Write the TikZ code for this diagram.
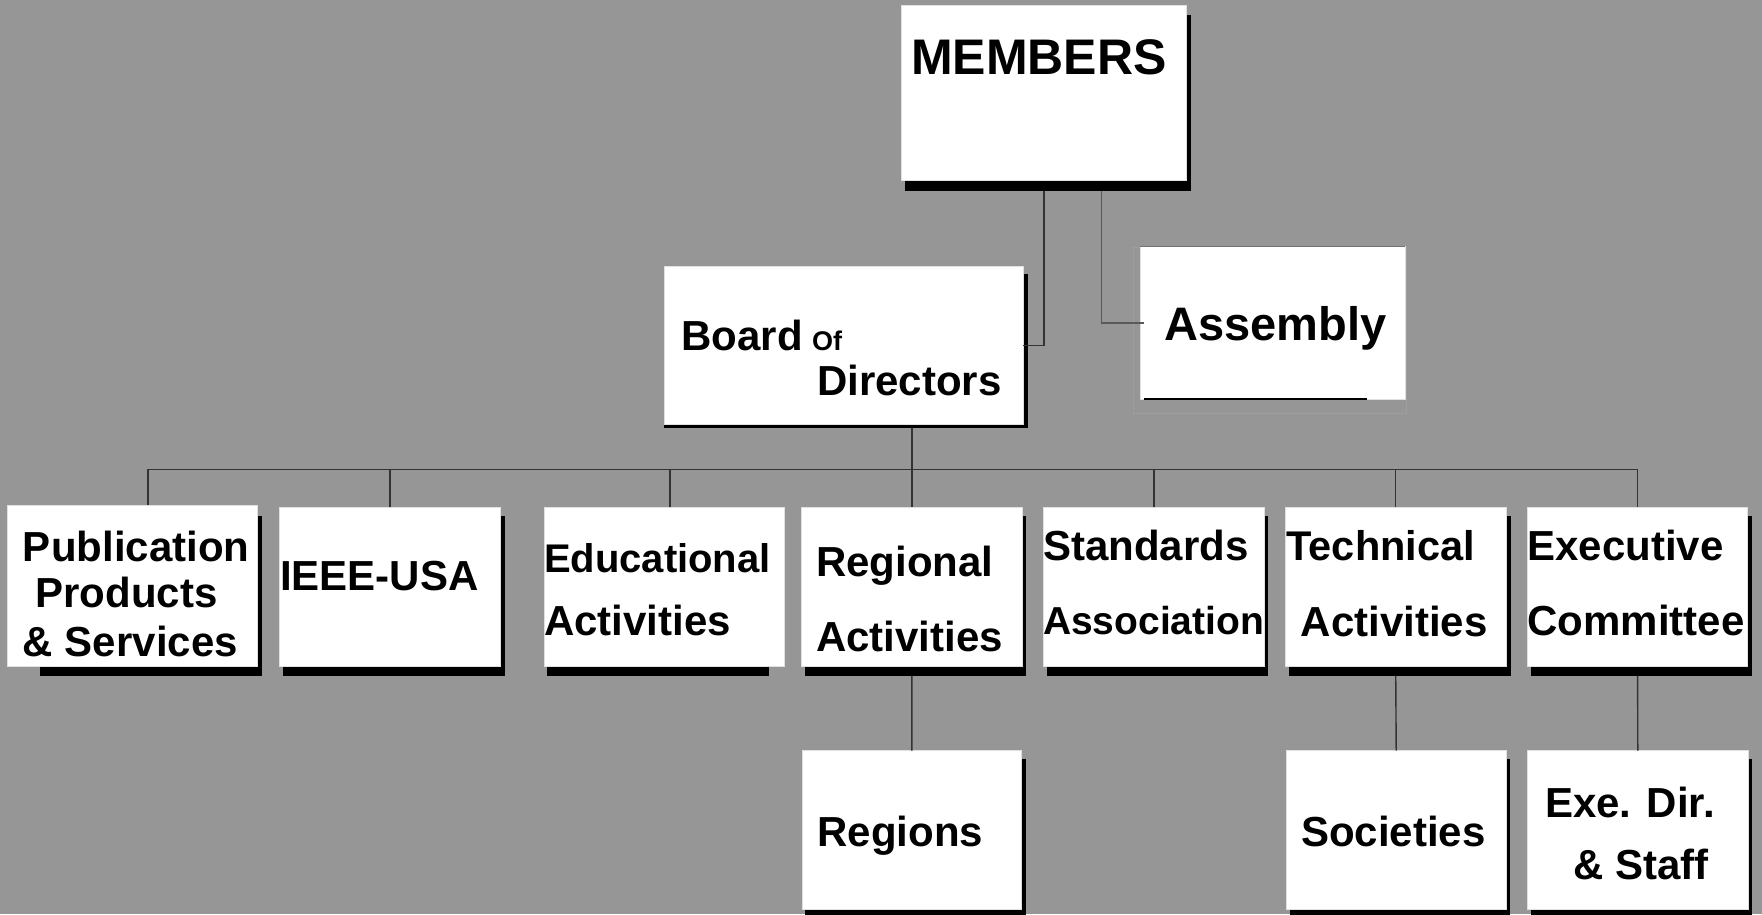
\documentclass[tikz,border=0pt]{standalone}
\usepackage{fontspec}
\setmainfont{Liberation Sans}
\definecolor{bgc}{RGB}{150,150,150}
\newcommand{\mkbox}[5]{%
  \pgfmathsetmacro{\bw}{#4-#2}\pgfmathsetmacro{\bh}{#5-#3}%
  \pgfmathsetmacro{\bx}{(#2+#4)/2}\pgfmathsetmacro{\by}{(#3+#5)/2}%
  \node[box,minimum width=\bw pt,minimum height=\bh pt] (#1) at (\bx,\by) {};}
\newcommand{\fs}[1]{\fontsize{#1}{#1}\selectfont}
\begin{document}
\begin{tikzpicture}[x=1pt,y=-1pt,
  box/.style={fill=white,draw=black!12,line width=0.8pt,inner sep=0pt,outer sep=0pt,rectangle},
  shad/.style={fill=black,draw=none},
  txt/.style={inner sep=0pt,outer sep=0pt,anchor=base west,font=\bfseries\fs{42}},
  con/.style={draw=black!80,line width=1.4pt}]
\fill[bgc] (0,0) rectangle (1762,914);
\useasboundingbox (0,0) rectangle (1762,914);
% shadows
\fill[shad] (905,15) rectangle (1190.8,191);
\fill[shad] (663.8,274.3) rectangle (1027.6,428.3);
\fill[shad] (40,516) rectangle (261.8,676);
\fill[shad] (283,516) rectangle (504.6,676);
\fill[shad] (547,516) rectangle (769.2,676);
\fill[shad] (805,516) rectangle (1026.2,676);
\fill[shad] (1046.5,516) rectangle (1268,676);
\fill[shad] (1289,516) rectangle (1510.5,676);
\fill[shad] (1530.7,516) rectangle (1752.3,676);
\fill[shad] (805,759) rectangle (1025.5,918);
\fill[shad] (1289.5,759) rectangle (1510,918);
\fill[shad] (1531,759) rectangle (1752,918);
% faint outline behind Assembly
\draw[black!38,line width=1pt] (1133.3,247) rectangle (1406,413.3);
% boxes
\mkbox{mem}{901.5}{5.7}{1186.7}{180.3}
\mkbox{bod}{664.8}{266.7}{1023}{424.3}
\mkbox{asm}{1140}{246.7}{1405}{399}
\mkbox{pub}{6.9}{505}{257.8}{666.7}
\mkbox{usa}{279.6}{507.3}{500}{666.7}
\mkbox{edu}{544.2}{507.3}{784.7}{666.7}
\mkbox{reg}{801.4}{507.3}{1022.3}{666.7}
\mkbox{std}{1043}{507.3}{1264.7}{666.7}
\mkbox{tec}{1285.5}{507.3}{1506}{666.7}
\mkbox{exe}{1527.4}{507.3}{1747.8}{666.7}
\mkbox{rgn}{801.9}{750.7}{1021.7}{909}
\mkbox{soc}{1286}{750.7}{1506.4}{909}
\mkbox{eds}{1527.6}{750.7}{1748}{909}
% Assembly top and bottom lines
\draw[black!55,line width=1pt] (asm.north west) -- (asm.north east);
\draw[black,line width=1.6pt] ([xshift=4pt]asm.south west) -- ([xshift=-38.3pt]asm.south east);
% connectors
\coordinate (bus) at (912,469.3);
\draw[con] (mem.south) ++(0,11) |- (bod.east);
\draw[con,draw=black!65] ([shift={(57.4,11)}]mem.south) |- ([xshift=4pt]asm.west);
\draw[con] (reg.north |- bod.south) ++(0,4) -- (reg.north);
\draw[con] ([xshift=15.6pt]pub.north) |- (bus) -| (exe.north);
\draw[con] (usa.north) -- (usa.north |- bus);
\draw[con] ([xshift=5.5pt]edu.north) -- ([xshift=5.5pt]edu.north |- bus);
\draw[con] (std.north) -- (std.north |- bus);
\draw[con] (tec.north) -- (tec.north |- bus);
\draw[con] ([yshift=-9.3pt]reg.south) -- (rgn.north);
\draw[con] ([yshift=-9.3pt]tec.south) -- (soc.north);
\draw[con] ([yshift=-9.3pt]exe.south) -- (eds.north);
% texts
\node[txt,font=\bfseries\fs{50}] (t-mem) at (911,74) {MEMBERS};
\node[txt] (t-bod1) at (681.6,350) {Board};
\node[txt,font=\bfseries\fs{27}] (t-bod2) at (812,350) {Of};
\node[txt] (t-bod3) at (817.3,395) {Directors};
\node[txt,font=\bfseries\fs{47}] (t-asm) at (1164.3,340) {Assembly};
\node[txt] (t-pub1) at (23,561) {Publication};
\node[txt] (t-pub2) at (35.6,607) {Products};
\node[txt] (t-pub3) at (23,656) {\& Services};
\node[txt] (t-usa) at (280,590.7) {IEEE-USA};
\node[txt,font=\bfseries\fs{40}] (t-edu1) at (544,572.7) {Educational};
\node[txt] (t-edu2) at (544,635.7) {Activities};
\node[txt] (t-reg1) at (816,576) {Regional};
\node[txt] (t-reg2) at (816,651.7) {Activities};
\node[txt] (t-std1) at (1043,560) {Standards};
\node[txt,font=\bfseries\fs{39}] (t-std2) at (1043,634.3) {Association};
\node[txt,font=\bfseries\fs{41.5}] (t-tec1) at (1286.6,560) {Technical};
\node[txt] (t-tec2) at (1300.7,636.5) {Activities};
\node[txt] (t-exe1) at (1527.4,560) {Executive};
\node[txt] (t-exe2) at (1527.4,635.7) {Committee};
\node[txt] (t-rgn) at (817.6,846.7) {Regions};
\node[txt] (t-soc) at (1301,846.7) {Societies};
\node[txt] (t-eds1) at (1545,817.7) {Exe. Dir.};
\node[txt] (t-eds2) at (1573.4,879) {\& Staff};
\end{tikzpicture}
\end{document}
